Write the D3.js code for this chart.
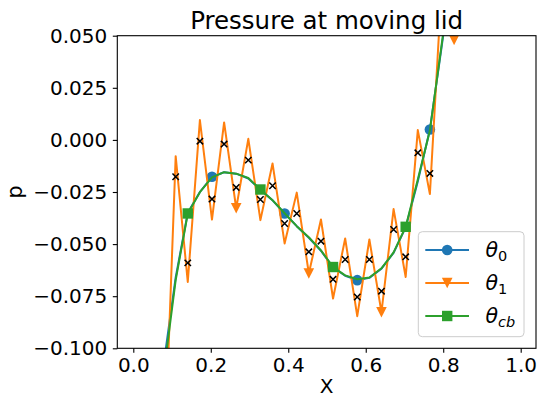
<!DOCTYPE html>
<html>
<head>
<meta charset="utf-8">
<script src="https://cdn.jsdelivr.net/npm/d3@7"></script>
<style>
  html, body { margin: 0; padding: 0; background: #fff; }
  svg { display: block; }
  text { font-family: "DejaVu Sans", sans-serif; }
</style>
</head>
<body>
<svg id="chart" width="537" height="399"></svg>
<script>
// ---- data ----
const xGrid = [0.0156, 0.0469, 0.0781, 0.1094, 0.1406, 0.1719, 0.2031, 0.2344,
  0.2656, 0.2969, 0.3281, 0.3594, 0.3906, 0.4219, 0.4531, 0.4844,
  0.5156, 0.5469, 0.5781, 0.6094, 0.6406, 0.6719, 0.7031, 0.7344,
  0.7656, 0.7969, 0.8281, 0.8594, 0.8906, 0.9219, 0.9531, 0.9844];

const theta0 = [-0.26, -0.17, -0.108, -0.066, -0.035, -0.025, -0.0177, -0.0155,
  -0.0162, -0.0185, -0.0240, -0.0290, -0.0353, -0.0414, -0.0470, -0.0532,
  -0.0612, -0.0652, -0.0673, -0.0662, -0.0618, -0.0542, -0.0420, -0.0200,
  0.0050, 0.046, 0.088, 0.13, 0.175, 0.22, 0.27, 0.32];

const theta1 = [-0.30, -0.20, -0.165, -0.0078, -0.0682, 0.0095, -0.0382, 0.0084,
  -0.0328, 0.0005, -0.0385, -0.0113, -0.0497, -0.0253, -0.0641, -0.0382,
  -0.0761, -0.0473, -0.0846, -0.0478, -0.0827, -0.0332, -0.0658, 0.0047,
  -0.0260, 0.077, 0.048, 0.16, 0.13, 0.26, 0.22, 0.36];

const thetaCb = [-0.25, -0.17, -0.1125, -0.0673, -0.0353, -0.0251, -0.0180, -0.0155,
  -0.0162, -0.0183, -0.0238, -0.0289, -0.0352, -0.0414, -0.0467, -0.0530,
  -0.0610, -0.0650, -0.0669, -0.0660, -0.0616, -0.0540, -0.0417, -0.0190,
  0.0045, 0.047, 0.090, 0.135, 0.180, 0.23, 0.28, 0.33];

const crosses = [-0.30, -0.20, -0.15, -0.0177, -0.0590, -0.0006, -0.0284, -0.0020,
  -0.0228, -0.0097, -0.0286, -0.0220, -0.0401, -0.0353, -0.0537, -0.0486,
  -0.0669, -0.0574, -0.0754, -0.0574, -0.0726, -0.0430, -0.0561, -0.0062,
  -0.0161, 0.08, 0.06, 0.14, 0.12, 0.20, 0.18, 0.26];

const mark0 = [0, 6, 12, 18, 24, 30];
const mark1 = [2, 8, 14, 20, 26];
const markCb = [4, 10, 16, 22, 28];

const xTicks = [0.0, 0.2, 0.4, 0.6, 0.8, 1.0];
const yTicks = [-0.100, -0.075, -0.050, -0.025, 0.000, 0.025, 0.050];

const titleText = "Pressure at moving lid";
const xLabel = "X";
const yLabel = "p";

// ---- layout ----
const L = 117.3, R = 536, T = 35.7, B = 348.3;
const C0 = "#1f77b4", C1 = "#ff7f0e", C2 = "#2ca02c";

const svg = d3.select("#chart");
const x = d3.scaleLinear().domain([-0.0413, 1.0395]).range([L, R]);
const y = d3.scaleLinear().domain([-0.100, 0.050]).range([B, T]);

svg.append("defs").append("clipPath").attr("id", "clip")
  .append("rect").attr("x", L).attr("y", T).attr("width", R - L).attr("height", B - T);

const plot = svg.append("g").attr("clip-path", "url(#clip)");

const line = vals => d3.line().x((d, i) => x(xGrid[i])).y(d => y(d))(vals);

function drawSeries(vals, color, marks, shape) {
  plot.append("path").attr("d", line(vals)).attr("fill", "none")
    .attr("stroke", color).attr("stroke-width", 2).attr("stroke-linejoin", "round");
  marks.forEach(i => drawMarker(plot, x(xGrid[i]), y(vals[i]), color, shape));
}

function drawMarker(g, cx, cy, color, shape) {
  if (shape === "circle") {
    g.append("circle").attr("cx", cx).attr("cy", cy).attr("r", 5.3).attr("fill", color);
  } else if (shape === "square") {
    g.append("rect").attr("x", cx - 5.2).attr("y", cy - 5.2).attr("width", 10.4).attr("height", 10.4).attr("fill", color);
  } else {
    const s = 5.3;
    g.append("path").attr("d", `M${cx - s},${cy - s}L${cx + s},${cy - s}L${cx},${cy + s}Z`).attr("fill", color);
  }
}

drawSeries(theta0, C0, mark0, "circle");
drawSeries(theta1, C1, mark1, "tri");
drawSeries(thetaCb, C2, markCb, "square");

// black x markers
crosses.forEach((v, i) => {
  const cx = x(xGrid[i]), cy = y(v), s = 3.2;
  plot.append("path").attr("d", `M${cx - s},${cy - s}L${cx + s},${cy + s}M${cx - s},${cy + s}L${cx + s},${cy - s}`)
    .attr("stroke", "#000").attr("stroke-width", 1.5).attr("fill", "none");
});

// axes
const xAxis = svg.append("g").attr("transform", `translate(0,${B})`)
  .call(d3.axisBottom(x).tickValues(xTicks).tickFormat(d3.format(".1f")).tickSize(4.5).tickPadding(5.5));
const yAxis = svg.append("g").attr("transform", `translate(${L},0)`)
  .call(d3.axisLeft(y).tickValues(yTicks).tickFormat(d3.format(".3f")).tickSize(4.5).tickPadding(5.5));
[xAxis, yAxis].forEach(a => {
  a.select(".domain").remove();
  a.selectAll("line").attr("stroke", "#000").attr("stroke-width", 1.1);
  a.selectAll("text").attr("font-size", 20).attr("fill", "#000").attr("font-family", "DejaVu Sans");
});

// frame
svg.append("rect").attr("x", L).attr("y", T).attr("width", R - L).attr("height", B - T)
  .attr("fill", "none").attr("stroke", "#000").attr("stroke-width", 1.1);

// title & labels
svg.append("text").attr("x", (L + R) / 2).attr("y", 29).attr("text-anchor", "middle")
  .attr("font-size", 24.5).text(titleText);
svg.append("text").attr("x", (L + R) / 2).attr("y", 393).attr("text-anchor", "middle")
  .attr("font-size", 20).text(xLabel);
svg.append("text").attr("transform", `translate(22,${(T + B) / 2}) rotate(-90)`).attr("text-anchor", "middle")
  .attr("font-size", 20.5).text(yLabel);

// legend
const lg = svg.append("g");
lg.append("rect").attr("x", 418.3).attr("y", 231.7).attr("width", 105.7).attr("height", 105)
  .attr("rx", 4).attr("fill", "#fff").attr("fill-opacity", 0.8).attr("stroke", "#cccccc").attr("stroke-width", 1);
const legendItems = [
  { color: C0, shape: "circle", sub: "0", subItalic: false },
  { color: C1, shape: "tri", sub: "1", subItalic: false },
  { color: C2, shape: "square", sub: "cb", subItalic: true }
];
legendItems.forEach((it, i) => {
  const ry = 250 + i * 33;
  lg.append("line").attr("x1", 425.3).attr("x2", 469).attr("y1", ry).attr("y2", ry)
    .attr("stroke", it.color).attr("stroke-width", 2);
  drawMarker(lg, 447.2, ry, it.color, it.shape);
  const t = lg.append("text").attr("x", 485.5).attr("y", ry + 7).attr("font-size", 20.5);
  t.append("tspan").attr("font-style", "italic").text("θ");
  t.append("tspan").attr("dy", 4).attr("font-size", 14.5)
    .attr("font-style", it.subItalic ? "italic" : "normal").text(it.sub);
});
</script>
</body>
</html>
